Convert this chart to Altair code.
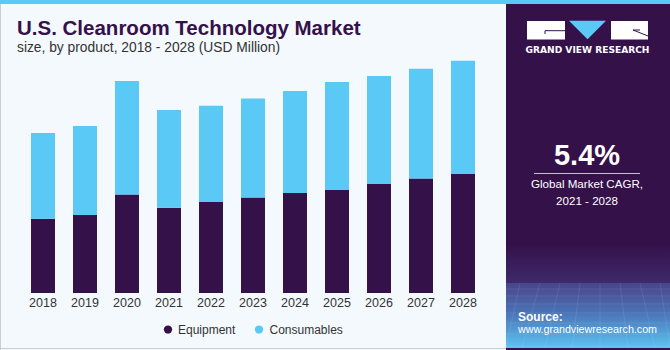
import altair as alt
import pandas as pd

# ---------------- data ----------------
years = ["2018", "2019", "2020", "2021", "2022", "2023", "2024", "2025", "2026", "2027", "2028"]
equipment = [74.3, 78.0, 98.6, 85.3, 91.0, 95.6, 100.0, 103.0, 109.0, 114.6, 119.0]
consumables = [85.7, 89.0, 113.4, 97.7, 96.3, 99.0, 102.0, 108.0, 108.0, 109.7, 113.3]
series = ["Equipment", "Consumables"]
colors = ["#35114a", "#5bc9f5"]

rows = []
for i, y in enumerate(years):
    rows.append({"year": y, "product": series[0], "value": equipment[i], "ord": 0})
    rows.append({"year": y, "product": series[1], "value": consumables[i], "ord": 1})
df = pd.DataFrame(rows)
ydf = pd.DataFrame({"year": years})

PURPLE = "#35114a"
BLUE = "#5bc9f5"
FONT = "Liberation Sans"

one = alt.Data(values=[{"a": 1}])

xscale = alt.Scale(domain=years, range=[22, 484], paddingInner=0.4286, paddingOuter=0.2143)
yscale = alt.Scale(domain=[0, 293], range=[293, 0], nice=False, zero=True)


def rect(x, x2, y, y2, color):
    return alt.Chart(one).mark_rect(color=color, strokeWidth=0).encode(
        x=alt.value(x), x2=alt.value(x2), y=alt.value(y), y2=alt.value(y2)
    )


def rule(x, x2, y, y2, color, w=1, op=1):
    return alt.Chart(one).mark_rule(color=color, strokeWidth=w, opacity=op).encode(
        x=alt.value(x), x2=alt.value(x2), y=alt.value(y), y2=alt.value(y2)
    )


def text(t, x, y, size, color, bold=False, align="left", font=FONT):
    return alt.Chart(one).mark_text(
        text=t, fontSize=size, color=color, fontWeight="bold" if bold else "normal",
        align=align, baseline="middle", font=font
    ).encode(x=alt.value(x), y=alt.value(y))


layers = []

# frame / stripes
layers.append(rect(0, 670, 0, 4, BLUE))
layers.append(rule(0.5, 0.5, 4, 350, "#c9cdd2"))
layers.append(rule(0, 506, 348.5, 348.5, "#c9cdd2"))

# right panel
layers.append(rect(506, 670, 4, 350, PURPLE))
layers.append(
    alt.Chart(one).mark_rect(
        strokeWidth=0,
        color=alt.LinearGradient(
            gradient="linear", x1=0, x2=0, y1=0, y2=1,
            stops=[alt.GradientStop(color=PURPLE, offset=0), alt.GradientStop(color="#3e2a6c", offset=1)],
        ),
    ).encode(x=alt.value(506), x2=alt.value(670), y=alt.value(245), y2=alt.value(283))
)
layers.append(
    alt.Chart(one).mark_rect(
        strokeWidth=0,
        color=alt.LinearGradient(
            gradient="linear", x1=0, x2=0, y1=0, y2=1,
            stops=[
                alt.GradientStop(color="#4a4488", offset=0),
                alt.GradientStop(color="#4a72b6", offset=0.45),
                alt.GradientStop(color="#5cc3f0", offset=1),
            ],
        ),
    ).encode(x=alt.value(506), x2=alt.value(670), y=alt.value(283), y2=alt.value(348))
)
# faint grid texture in the source area
for gy in [289, 296, 304, 313, 323, 334, 346]:
    layers.append(rule(506, 670, gy, gy, "white", 0.7, 0.12))
for gx0, gx1 in [(520, 506), (540, 522), (560, 545), (580, 572), (600, 600), (620, 628), (640, 655), (660, 680)]:
    layers.append(rule(gx0, min(gx1, 670), 283, 348, "white", 0.7, 0.12))

# logo
layers.append(rect(527, 565, 21, 39.5, "white"))
layers.append(rect(611, 648, 21, 39.5, "white"))
layers.append(rule(545, 565, 30.7, 30.7, PURPLE))
layers.append(rule(545, 545, 30.7, 34, PURPLE))
layers.append(rule(633, 648, 30, 36, PURPLE))
layers.append(rule(633, 640, 30, 30, PURPLE))
layers.append(
    alt.Chart(one).mark_point(
        shape="M-1,-0.5L1,-0.5L0,0.5Z", filled=True, size=1369, color=BLUE, opacity=1, strokeWidth=0
    ).encode(x=alt.value(587.5), y=alt.value(30))
)
layers.append(text("GRAND VIEW RESEARCH", 587.5, 49.5, 9.1, "white", bold=True, align="center", font="DejaVu Sans"))

# CAGR
layers.append(text("5.4%", 587, 156, 29, "white", bold=True, align="center"))
layers.append(rule(534, 640, 173.5, 173.5, "#c8c0d6"))
layers.append(text("Global Market CAGR,", 587, 184.5, 11.6, "white", align="center"))
layers.append(text("2021 - 2028", 587, 201.5, 11.6, "white", align="center"))

# source
layers.append(text("Source:", 518, 316.5, 12, "white", bold=True))
layers.append(text("www.grandviewresearch.com", 518, 329.5, 10.7, "white"))

# titles
layers.append(text("U.S. Cleanroom Technology Market", 17, 28.5, 20.5, PURPLE, bold=True))
layers.append(text("size, by product, 2018 - 2028 (USD Million)", 17, 48, 13.8, "#333333"))

# bars
bars = alt.Chart(df).mark_bar(strokeWidth=0).encode(
    x=alt.X("year:N", scale=xscale, axis=None),
    y=alt.Y("value:Q", stack="zero", scale=yscale, axis=None),
    color=alt.Color("product:N", scale=alt.Scale(domain=series, range=colors), legend=None),
    order=alt.Order("ord:Q", sort="ascending"),
)
layers.append(bars)

# year labels
layers.append(
    alt.Chart(ydf).mark_text(fontSize=12.5, color="#333333", baseline="middle", font=FONT).encode(
        x=alt.X("year:N", scale=xscale, axis=None), y=alt.value(303), text="year:N"
    )
)

# legend
layers.append(
    alt.Chart(one).mark_point(filled=True, size=68, color=PURPLE, opacity=1, shape="circle").encode(
        x=alt.value(168), y=alt.value(329.5)
    )
)
layers.append(
    alt.Chart(one).mark_point(filled=True, size=68, color=BLUE, opacity=1, shape="circle").encode(
        x=alt.value(259), y=alt.value(329.5)
    )
)
layers.append(text("Equipment", 178, 329.5, 12, "#333333"))
layers.append(text("Consumables", 269.5, 329.5, 12, "#333333"))

chart = alt.layer(*layers).properties(
    width=670, height=350, background="#f4f9fd",
    autosize=alt.AutoSizeParams(type="none"), padding=0,
).configure_view(stroke=None)

chart.save("out.html", embed_options={"renderer": "svg", "actions": False})
